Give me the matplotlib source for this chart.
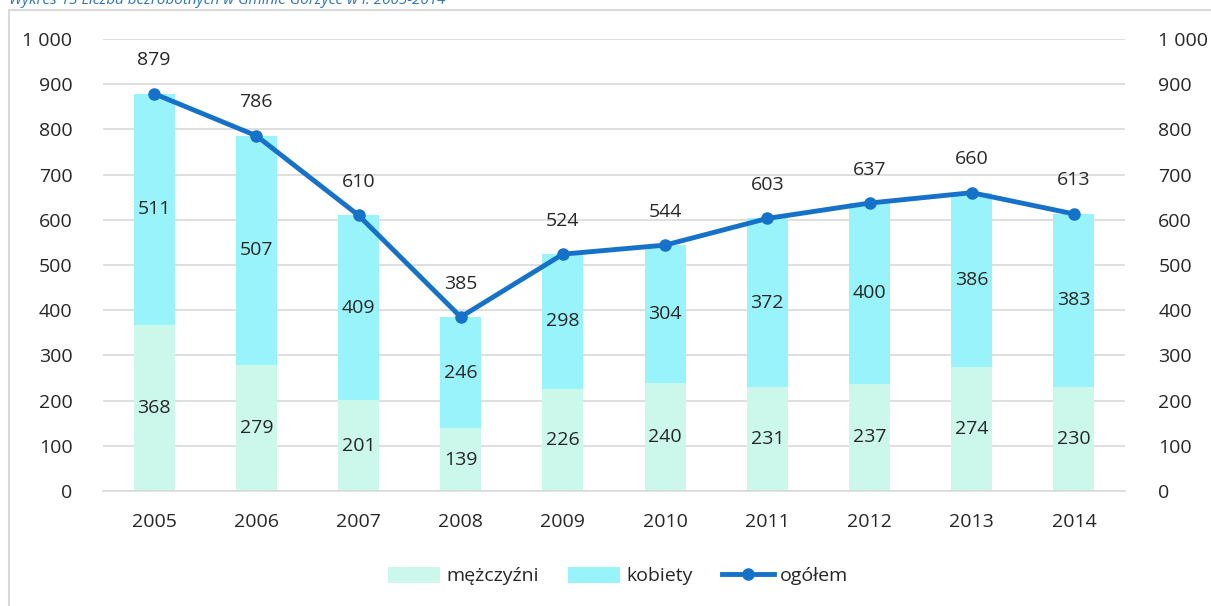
import matplotlib.pyplot as plt
from matplotlib.ticker import FuncFormatter
from matplotlib.patches import Rectangle
import numpy as np

plt.rcParams['font.family'] = ['Open Sans', 'DejaVu Sans']

years = ['2005', '2006', '2007', '2008', '2009', '2010', '2011', '2012', '2013', '2014']
men = [368, 279, 201, 139, 226, 240, 231, 237, 274, 230]
women = [511, 507, 409, 246, 298, 304, 372, 400, 386, 383]
total = [879, 786, 610, 385, 524, 544, 603, 637, 660, 613]

men_color = '#CBF8EA'
women_color = '#98F4FA'
line_color = '#1672C9'
text_color = '#262626'
grid_color = '#D9D9D9'
fs = 14

fig = plt.figure(figsize=(12.11, 6.06), dpi=100)
W, H = 1211, 606
ax = fig.add_axes([103 / W, 1 - 491 / H, (1125 - 103) / W, (491 - 39) / H])

# outer frame of the chart, clipped at the top/right like the screenshot
fig.patches.append(Rectangle((9 / W, -0.1), 1.2, 1 - 10 / H + 0.1, transform=fig.transFigure,
                             fill=False, edgecolor='#D9D9D9', linewidth=1.5))
fig.text(9 / W, 1 - 1 / H, 'Wykres 13 Liczba bezrobotnych w Gminie Gorzyce w l. 2005-2014',
         color='#2E74B5', fontsize=11, style='italic', va='center', ha='left')

x = np.arange(len(years))
w = 0.4
bars_m = ax.bar(x, men, w, color=men_color, label='mężczyźni', zorder=2)
bars_k = ax.bar(x, women, w, bottom=men, color=women_color, label='kobiety', zorder=2)
line, = ax.plot(x, total, color=line_color, linewidth=3.5, marker='o', markersize=8,
                label='ogółem', zorder=3)

for i in range(len(years)):
    ax.text(x[i], men[i] / 2, str(men[i]), ha='center', va='center', fontsize=fs, color=text_color, zorder=4)
    ax.text(x[i], men[i] + women[i] / 2, str(women[i]), ha='center', va='center', fontsize=fs,
            color=text_color, zorder=4)
    ax.text(x[i], total[i] + 74, str(total[i]), ha='center', va='center', fontsize=fs,
            color=text_color, zorder=4)

ax.set_xlim(-0.5, len(years) - 0.5)
ax.set_ylim(0, 1000)
ax.set_yticks(range(0, 1001, 100))
fmt = FuncFormatter(lambda v, p: f'{int(v):,}'.replace(',', ' '))
ax.yaxis.set_major_formatter(fmt)
ax.set_xticks(x)
ax.set_xticklabels(years)
ax.grid(axis='y', color=grid_color, linewidth=1.2, zorder=0)
ax.set_axisbelow(True)
for s in ['top', 'left', 'right']:
    ax.spines[s].set_visible(False)
ax.spines['bottom'].set_color(grid_color)
ax.spines['bottom'].set_linewidth(1.2)
ax.tick_params(axis='both', length=0, labelsize=fs, colors=text_color)
ax.tick_params(axis='x', pad=16)
ax.tick_params(axis='y', pad=22)

ax2 = ax.twinx()
ax2.set_ylim(0, 1000)
ax2.set_yticks(range(0, 1001, 100))
ax2.yaxis.set_major_formatter(fmt)
ax2.tick_params(axis='y', length=0, labelsize=fs, colors=text_color, pad=24)
for s in ax2.spines.values():
    s.set_visible(False)

fig.legend([bars_m, bars_k, line], ['mężczyźni', 'kobiety', 'ogółem'], loc='center',
           bbox_to_anchor=(618 / W, 1 - 576 / H), ncol=3, frameon=False,
           fontsize=fs, handlelength=2.7, handleheight=0.9, columnspacing=1.5, handletextpad=0.3,
           labelcolor=text_color)

fig.savefig('out.png', dpi=100)
